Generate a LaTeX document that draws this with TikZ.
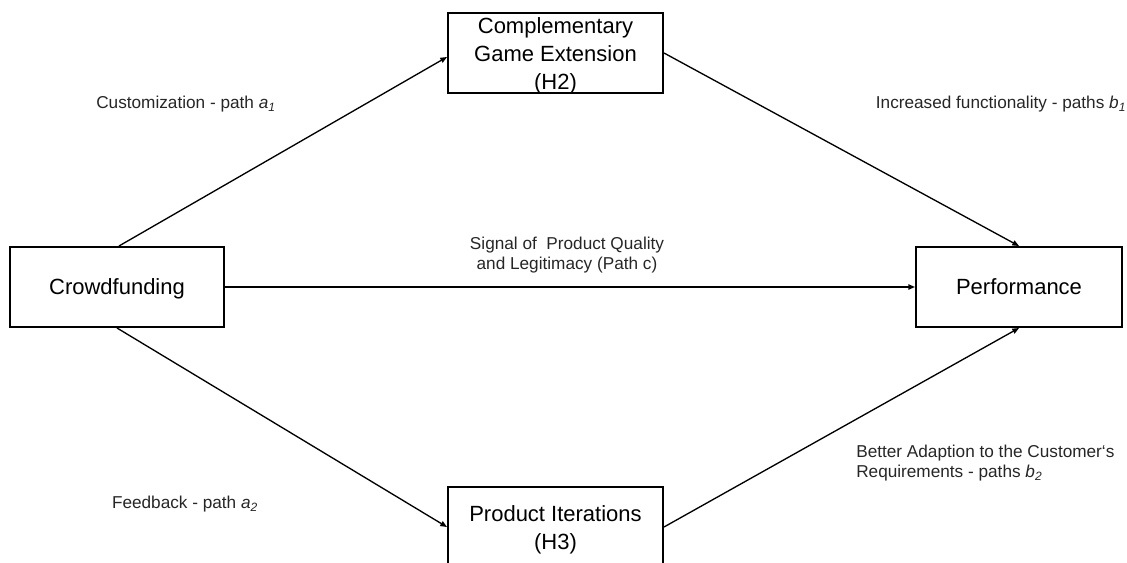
\documentclass[tikz,border=0pt]{standalone}
\usepackage{fontspec}
\setmainfont{Liberation Sans}
\usetikzlibrary{arrows.meta}
\tikzset{
  box/.style={draw=black, line width=1.5pt, fill=white, rectangle, inner sep=0pt},
  boxtext/.style={inner sep=0pt, align=center, font=\fontsize{16.5}{21}\selectfont, yshift=-2.4pt},
  oneline/.style={text height=12pt, text depth=3.5pt, yshift=1.2pt},
  lbl/.style={inner sep=0pt, font=\fontsize{12.9}{15}\selectfont, text=black!85},
  conn/.style={line width=1pt, -{Triangle[length=5pt,width=4pt]}}
}
\newcommand{\sub}[2]{\textit{#1}\textsubscript{\textit{#2}}}
\begin{document}
\begin{tikzpicture}[x=0.75pt,y=-0.75pt]
\useasboundingbox (0,0) rectangle (1127,563);
\clip (0,0) rectangle (1127,563);
\node[box, minimum width=160.5pt, minimum height=60pt] (cf) at (117,287) {};
\node[box, minimum width=161.25pt, minimum height=60pt] (h2) at (555.5,53) {};
\node[box, minimum width=154.5pt, minimum height=60pt] (perf) at (1019,287) {};
\node[box, minimum width=161.25pt, minimum height=60pt] (pi) at (555.5,527) {};

\node[boxtext, oneline] (cft) at (cf.center) {Crowdfunding};
\node[boxtext] (h2t) at (h2.center) {Complementary\\Game Extension\\(H2)};
\node[boxtext, oneline] (perft) at (perf.center) {Performance};
\node[boxtext] (pit) at (pi.center) {Product Iterations\\(H3)};

\node[lbl] (la1) at (186,104) {Customization - path \sub{a}{1}};
\node[lbl] (lb1) at (1001,104) {Increased functionality - paths \sub{b}{1}};
\node[lbl, align=center] (lc) at (567,255) {Signal of \ Product Quality\\ and Legitimacy (Path c)};
\node[lbl] (la2) at (185,504) {Feedback - path \sub{a}{2}};
\node[lbl, align=left, anchor=west] (lb2) at (856,463) {Better Adaption to the Customer‘s\\Requirements - paths \sub{b}{2}};

\draw[conn] ([xshift=1.5pt]cf.north) -- ([yshift=-3pt]h2.west);
\draw[conn] (h2.east) -- (perf.north);
\draw[conn] (cf.east) -- (perf.west);
\draw[conn] (cf.south) -- (pi.west);
\draw[conn] (pi.east) -- (perf.south);
\end{tikzpicture}
\end{document}
